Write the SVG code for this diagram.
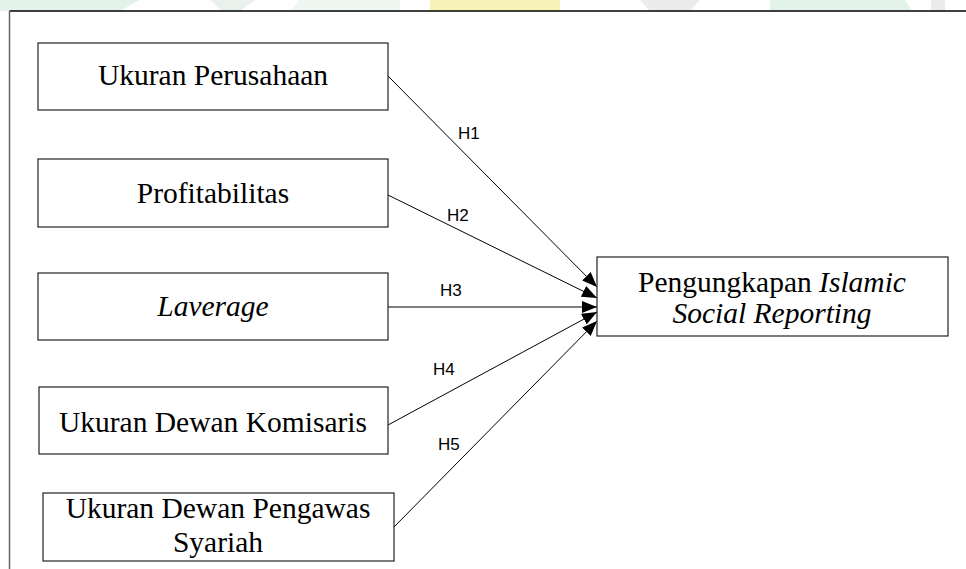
<svg xmlns="http://www.w3.org/2000/svg" width="966" height="569" viewBox="0 0 966 569">
<style>
.box{fill:#fff;stroke:#222;stroke-width:1.2}
.t{font-family:"Liberation Serif","Times New Roman",serif;font-size:29.5px;fill:#000;text-anchor:middle}
.i{font-style:italic}
.h{font-family:"Liberation Sans",Arial,sans-serif;font-size:17px;fill:#000}
.c{stroke:#000;stroke-width:1;fill:none;marker-end:url(#ah)}
</style>
<defs>
<marker id="ah" markerUnits="userSpaceOnUse" markerWidth="16" markerHeight="12" refX="15" refY="6" orient="auto">
<path d="M0,0 L15,6 L0,12 Z" fill="#000"/>
</marker>
</defs>
<rect width="966" height="569" fill="#fff"/>
<g id="watermark">
<path d="M0,0 H140 L120,11 H0 Z" fill="#e4f3ea"/>
<path d="M210,0 H255 L240,11 H222 Z" fill="#e8f1ec"/>
<path d="M300,0 H400 V11 H290 Z" fill="#eef7f1"/>
<path d="M430,0 H560 V11 H430 Z" fill="#f7f3b8"/>
<path d="M640,0 H700 L690,11 H650 Z" fill="#ececec"/>
<path d="M770,0 H905 L912,11 H770 Z" fill="#e4f3ea"/>
<rect x="931" y="0" width="14" height="11" fill="#ebebeb"/>
</g>
<g id="frame">
<line x1="9.5" y1="11" x2="966" y2="11" stroke="#000" stroke-width="1.5"/>
<line x1="9.5" y1="11" x2="9.5" y2="569" stroke="#666" stroke-width="1.5"/>
</g>
<g id="connectors">
<line class="c" x1="388" y1="76" x2="597" y2="287"/>
<line class="c" x1="388" y1="195" x2="597" y2="298"/>
<line class="c" x1="388" y1="307" x2="597" y2="307"/>
<line class="c" x1="388" y1="425" x2="597" y2="312"/>
<line class="c" x1="394" y1="527" x2="597" y2="321"/>
<text class="h" x="458" y="139">H1</text>
<text class="h" x="447" y="221">H2</text>
<text class="h" x="440" y="296">H3</text>
<text class="h" x="433" y="375">H4</text>
<text class="h" x="438" y="450">H5</text>
</g>
<g id="n1">
<rect class="box" x="38" y="43" width="350" height="67"/>
<text class="t" x="213" y="85">Ukuran Perusahaan</text>
</g>
<g id="n2">
<rect class="box" x="38" y="159" width="350" height="68"/>
<text class="t" x="213" y="203">Profitabilitas</text>
</g>
<g id="n3">
<rect class="box" x="38" y="273" width="350" height="67"/>
<text class="t i" x="213" y="316">Laverage</text>
</g>
<g id="n4">
<rect class="box" x="39" y="387" width="349" height="67"/>
<text class="t" x="213" y="432">Ukuran Dewan Komisaris</text>
</g>
<g id="n5">
<rect class="box" x="43" y="493" width="351" height="68"/>
<text class="t" x="218" y="518">Ukuran Dewan Pengawas</text>
<text class="t" x="218" y="552">Syariah</text>
</g>
<g id="target">
<rect class="box" x="597" y="257" width="351" height="79"/>
<text class="t" x="772" y="292">Pengungkapan <tspan class="i">Islamic</tspan></text>
<text class="t i" x="772" y="323">Social Reporting</text>
</g>
</svg>
